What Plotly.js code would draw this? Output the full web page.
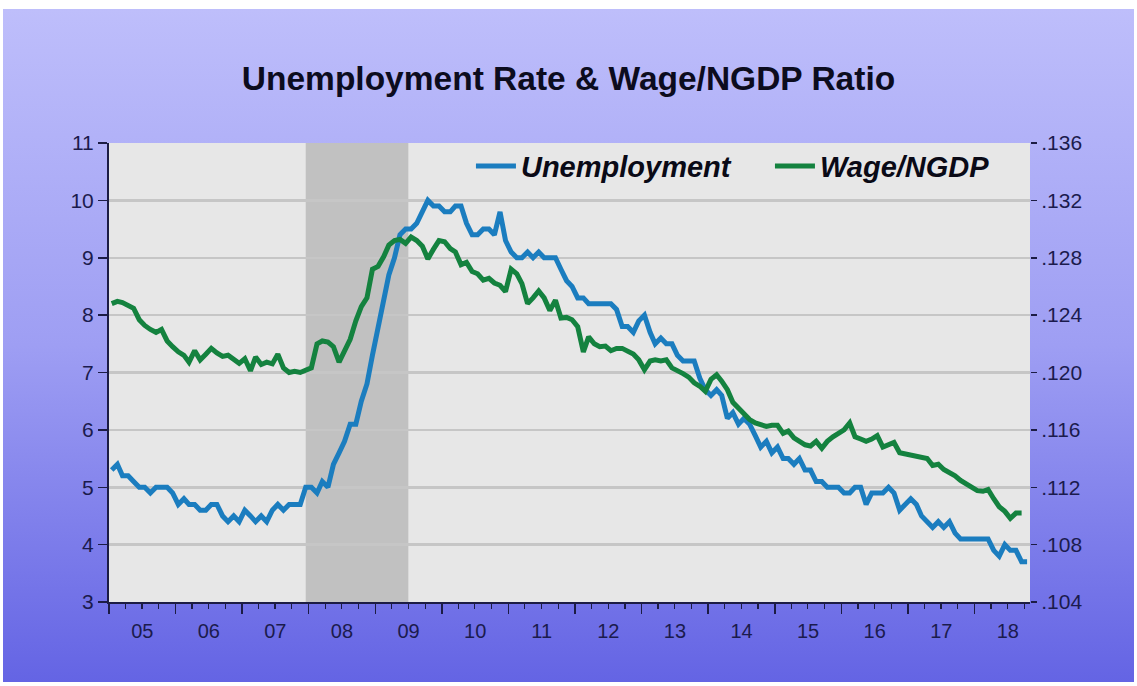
<!DOCTYPE html>
<html><head><meta charset="utf-8">
<script src="https://cdn.plot.ly/plotly-3.0.1.min.js"></script>
<style>
html,body{margin:0;padding:0;background:#fff;width:1137px;height:686px;overflow:hidden;}
#bg{position:absolute;left:3px;top:9px;width:1131px;height:673px;background:linear-gradient(to bottom,#bebefb 0%,#9e9ef3 50%,#6464e4 100%);}
#chart{position:absolute;left:0;top:0;width:1137px;height:686px;}
</style></head><body><div id="bg"></div><div id="chart"></div>
<script>
// ---- data ----
const firstYear = 2005;
const seriesNames = ['Unemployment', 'Wage/NGDP'];
// Civilian unemployment rate, %, monthly Jan 2005 - Oct 2018 (left axis)
const unemployment = [
  5.3,5.4,5.2,5.2,5.1,5.0,5.0,4.9,5.0,5.0,5.0,4.9,
  4.7,4.8,4.7,4.7,4.6,4.6,4.7,4.7,4.5,4.4,4.5,4.4,
  4.6,4.5,4.4,4.5,4.4,4.6,4.7,4.6,4.7,4.7,4.7,5.0,
  5.0,4.9,5.1,5.0,5.4,5.6,5.8,6.1,6.1,6.5,6.8,7.3,
  7.8,8.3,8.7,9.0,9.4,9.5,9.5,9.6,9.8,10.0,9.9,9.9,
  9.8,9.8,9.9,9.9,9.6,9.4,9.4,9.5,9.5,9.4,9.8,9.3,
  9.1,9.0,9.0,9.1,9.0,9.1,9.0,9.0,9.0,8.8,8.6,8.5,
  8.3,8.3,8.2,8.2,8.2,8.2,8.2,8.1,7.8,7.8,7.7,7.9,
  8.0,7.7,7.5,7.6,7.5,7.5,7.3,7.2,7.2,7.2,6.9,6.7,
  6.6,6.7,6.6,6.2,6.3,6.1,6.2,6.1,5.9,5.7,5.8,5.6,
  5.7,5.5,5.5,5.4,5.5,5.3,5.3,5.1,5.1,5.0,5.0,5.0,
  4.9,4.9,5.0,5.0,4.7,4.9,4.9,4.9,5.0,4.9,4.6,4.7,
  4.8,4.7,4.5,4.4,4.3,4.4,4.3,4.4,4.2,4.1,4.1,4.1,
  4.1,4.1,4.1,3.9,3.8,4.0,3.9,3.9,3.7,3.7
];
// Wage / nominal GDP ratio, monthly Jan 2005 - Sep 2018 (right axis)
const wageNgdp = [
  .1248,.12496,.12488,.12472,.12448,.12368,.12328,.1230,.1228,.1230,.1222,.1218,
  .12144,.1212,.12072,.12152,.12088,.12128,.12168,.12136,.12112,.1212,.12088,.12064,
  .12096,.12012,.12108,.12056,.12072,.1206,.12128,.12032,.1200,.12008,.1200,.12012,
  .12032,.1220,.1222,.12212,.1218,.12072,.1216,.12232,.1236,.1246,.1252,.1272,
  .1274,.12808,.12888,.1292,.12928,.1290,.12944,.1292,.1288,.12792,.1286,.1292,
  .12912,.12864,.1284,.12752,.12768,.12704,.12688,.12644,.12656,.12624,.12608,.12564,
  .1272,.12688,.1262,.1248,.1252,.12568,.1252,.12432,.12504,.1238,.12384,.12368,
  .1232,.12144,.12248,.1220,.1218,.12184,.12152,.12168,.12168,.12152,.12128,.12088,
  .1202,.1208,.12088,.1208,.12088,.12032,.12016,.11992,.11968,.11928,.11904,.11868,
  .11952,.11984,.1194,.1188,.11792,.11752,.11704,.11672,.11648,.11632,.11624,.11632,
  .11632,.11576,.11592,.11544,.1152,.11496,.11488,.1152,.11472,.1152,.11552,.11576,
  .1160,.11648,.11552,.11536,.1152,.11536,.1156,.1148,.11496,.11512,.1144,.11432,
  .11428,.11424,.11408,.1140,.11352,.1136,.11324,.11304,.1128,.11248,.11224,.1120,
  .11176,.11172,.11184,.1112,.11064,.11032,.10984,.1102,.1102
];
const recession = ['2007-12-16', '2009-07-01'];
const xRange = ['2005-01-01', '2018-11-01'];
const leftRange = [3, 11];
const rightTickVals = [.104,.108,.112,.116,.120,.124,.128,.132,.136];
const rightTickText = ['.104','.108','.112','.116','.120','.124','.128','.132','.136'];

function monthDates(n) {
  const out = [];
  for (let i = 0; i < n; i++) {
    const y = firstYear + Math.floor(i / 12), m = (i % 12) + 1;
    out.push(y + '-' + String(m).padStart(2, '0') + '-16');
  }
  return out;
}

const axisCol = '#1c1c44';
const traces = [
  {x: monthDates(unemployment.length), y: unemployment, name: seriesNames[0], type: 'scatter', mode: 'lines',
   line: {color: '#1b7dbf', width: 5}, yaxis: 'y'},
  {x: monthDates(wageNgdp.length), y: wageNgdp, name: seriesNames[1], type: 'scatter', mode: 'lines',
   line: {color: '#14823f', width: 5}, yaxis: 'y2'}
];

const layout = {
  width: 1137, height: 686,
  paper_bgcolor: 'rgba(0,0,0,0)', plot_bgcolor: '#e7e7e7',
  margin: {l: 109, r: 107, t: 143, b: 84, autoexpand: false},
  font: {family: '"Liberation Sans", Arial, sans-serif', color: '#1b1b4d', size: 20},
  title: {text: 'Unemployment Rate & Wage/NGDP Ratio', x: 0.5, xref: 'container', xanchor: 'center',
          y: 0.886, yref: 'container', yanchor: 'middle',
          font: {size: 33.5, color: '#0c0c1e', weight: 'bold', family: '"Liberation Sans", Arial, sans-serif'}},
  showlegend: true,
  legend: {orientation: 'h', x: 0.393, xanchor: 'left', y: 1.005, yanchor: 'top', bgcolor: 'rgba(0,0,0,0)',
           entrywidth: 244, entrywidthmode: 'pixels', itemwidth: 40,
           font: {size: 29, weight: 'bold', style: 'italic', color: '#0a0a16'}},
  xaxis: {type: 'date', range: xRange, tick0: '2005-01-01', dtick: 'M12', tickformat: '%y',
          ticklabelmode: 'period', ticks: 'outside', ticklen: 10, tickwidth: 1.5, tickcolor: axisCol,
          showline: true, linecolor: axisCol, linewidth: 2, showgrid: false, zeroline: false,
          minor: {dtick: 'M3', ticks: 'outside', ticklen: 5, tickwidth: 1.2, tickcolor: axisCol, showgrid: false},
          tickfont: {size: 20}},
  yaxis: {range: leftRange, dtick: 1, ticks: 'outside', ticklen: 9, tickwidth: 1.5, tickcolor: axisCol,
          showline: true, linecolor: axisCol, linewidth: 2, showgrid: true, gridcolor: '#c6c6c6', gridwidth: 2.5,
          zeroline: false, tickfont: {size: 21}},
  yaxis2: {overlaying: 'y', side: 'right', range: [rightTickVals[0], rightTickVals[rightTickVals.length - 1]],
           tickmode: 'array', tickvals: rightTickVals, ticktext: rightTickText, ticks: 'outside', ticklen: 6,
           tickwidth: 1.5, tickcolor: axisCol, showline: false, showgrid: false, zeroline: false, tickfont: {size: 21}},
  shapes: [{type: 'rect', xref: 'x', yref: 'paper', x0: recession[0], x1: recession[1], y0: 0, y1: 1,
            fillcolor: '#c1c1c1', line: {width: 0}, layer: 'below'}]
};

Plotly.newPlot('chart', traces, layout, {staticPlot: true, displayModeBar: false});
</script></body></html>
